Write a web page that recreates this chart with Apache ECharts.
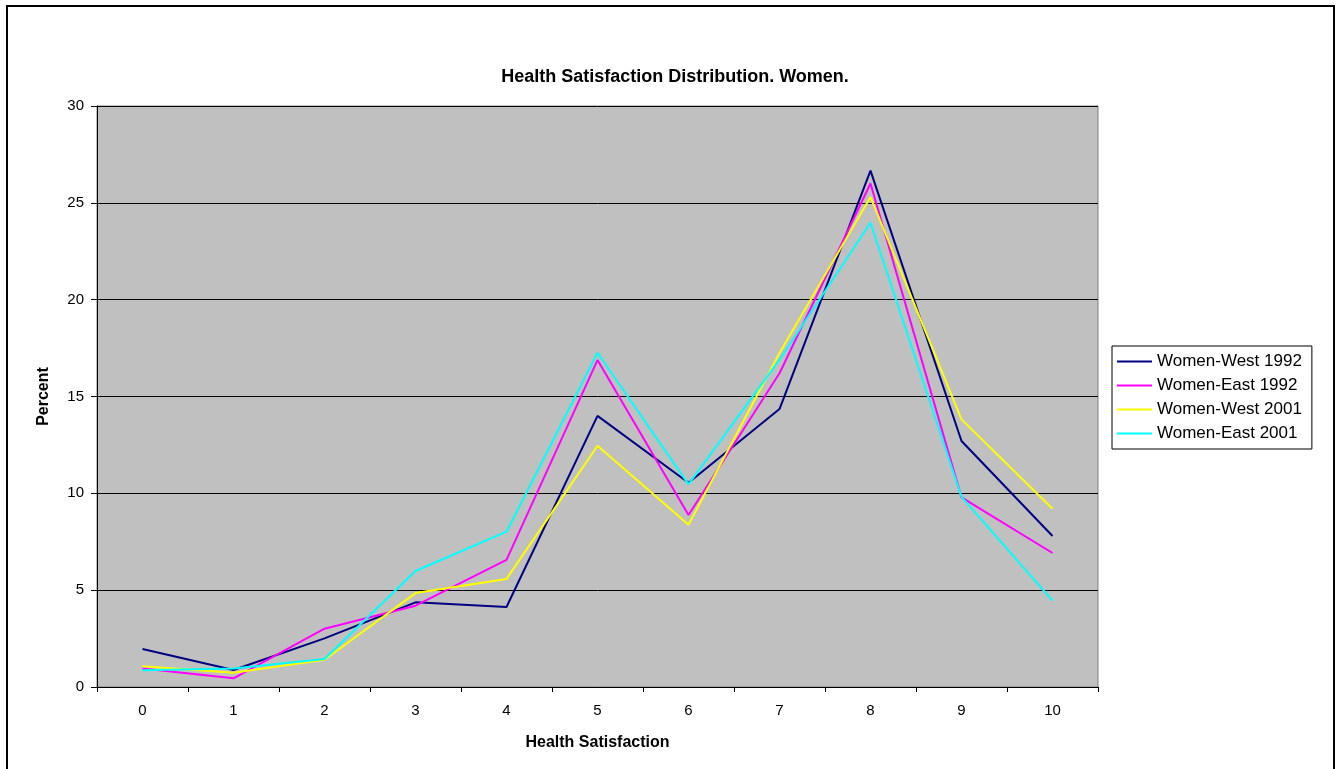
<!DOCTYPE html>
<html>
<head>
<meta charset="utf-8">
<title>Health Satisfaction Distribution. Women.</title>
<script src="https://cdn.jsdelivr.net/npm/echarts@6/dist/echarts.min.js"></script>
<style>
  html, body { margin: 0; padding: 0; background: #ffffff; }
  #chart { width: 1341px; height: 769px; }
</style>
</head>
<body>
<div id="chart"></div>
<script>
// Health satisfaction score (0-10) and share of respondents in percent
const categories = ['0', '1', '2', '3', '4', '5', '6', '7', '8', '9', '10'];
const womenWest1992 = [1.96, 0.88, 2.51, 4.37, 4.13, 14.0, 10.55, 14.35, 26.66, 12.7, 7.8];
const womenEast1992 = [0.96, 0.45, 3.01, 4.2, 6.56, 16.88, 8.88, 16.2, 26.0, 9.79, 6.92];
const womenWest2001 = [1.07, 0.74, 1.41, 4.85, 5.58, 12.46, 8.38, 17.25, 25.3, 13.82, 9.2];
const womenEast2001 = [0.86, 0.96, 1.45, 5.99, 8.02, 17.26, 10.46, 16.9, 23.97, 9.82, 4.46];
const seriesNames = ['Women-West 1992', 'Women-East 1992', 'Women-West 2001', 'Women-East 2001'];
const seriesColors = ['#000080', '#FF00FF', '#FFFF00', '#00FFFF'];
const yTicks = [0, 5, 10, 15, 20, 25, 30];

const font = 'Arial, "Liberation Sans", Helvetica, sans-serif';
const chart = echarts.init(document.getElementById('chart'), null, { renderer: 'canvas' });

const seriesData = [womenWest1992, womenEast1992, womenWest2001, womenEast2001];

chart.setOption({
  backgroundColor: '#ffffff',
  animation: false,
  title: {
    text: 'Health Satisfaction Distribution. Women.',
    left: 670,
    textAlign: 'center',
    top: 63,
    textStyle: { fontFamily: font, fontSize: 18, fontWeight: 'bold', color: '#000000' }
  },
  graphic: [
    {
      type: 'rect',
      shape: { x: 7, y: 6, width: 1327, height: 775 },
      style: { fill: 'none', stroke: '#000000', lineWidth: 2 },
      silent: true
    }
  ],
  legend: {
    orient: 'vertical',
    left: 1112,
    top: 346,
    padding: [7, 10, 7, 5],
    itemWidth: 35,
    itemHeight: 14,
    itemGap: 7,
    backgroundColor: '#ffffff',
    borderColor: '#000000',
    borderWidth: 1,
    data: seriesNames.map(n => ({ name: n, icon: 'path://M0,0 L35,0 L35,2 L0,2 Z' })),
    textStyle: { fontFamily: font, fontSize: 17, color: '#000000', padding: [0, 8, 0, 0] }
  },
  grid: {
    left: 97, top: 106, right: 243, bottom: 82,
    show: true,
    backgroundColor: '#C0C0C0',
    borderColor: '#808080',
    borderWidth: 1
  },
  xAxis: {
    type: 'category',
    data: categories,
    boundaryGap: true,
    name: 'Health Satisfaction',
    nameLocation: 'middle',
    nameGap: 48,
    nameTextStyle: { fontFamily: font, fontSize: 16, fontWeight: 'bold', color: '#000000' },
    axisLine: { show: true, lineStyle: { color: '#000000', width: 1 } },
    axisTick: { show: true, length: 5, lineStyle: { color: '#000000' } },
    axisLabel: { fontFamily: font, fontSize: 15, color: '#000000', margin: 16 },
    splitLine: { show: false }
  },
  yAxis: {
    type: 'value',
    min: yTicks[0],
    max: yTicks[yTicks.length - 1],
    interval: yTicks[1] - yTicks[0],
    name: 'Percent',
    nameLocation: 'middle',
    nameGap: 45,
    nameRotate: 90,
    nameTextStyle: { fontFamily: font, fontSize: 16, fontWeight: 'bold', color: '#000000' },
    axisLine: { show: true, lineStyle: { color: '#000000', width: 1 } },
    axisTick: { show: true, length: 6, lineStyle: { color: '#000000' } },
    axisLabel: { fontFamily: font, fontSize: 15, color: '#000000', margin: 13 },
    splitLine: { show: true, lineStyle: { color: '#000000', width: 1 } }
  },
  series: seriesNames.map((name, i) => ({
    name: name,
    type: 'line',
    data: seriesData[i],
    symbol: 'none',
    smooth: false,
    color: seriesColors[i],
    lineStyle: { color: seriesColors[i], width: 2 },
    z: 3 + i
  }))
});
</script>
</body>
</html>
